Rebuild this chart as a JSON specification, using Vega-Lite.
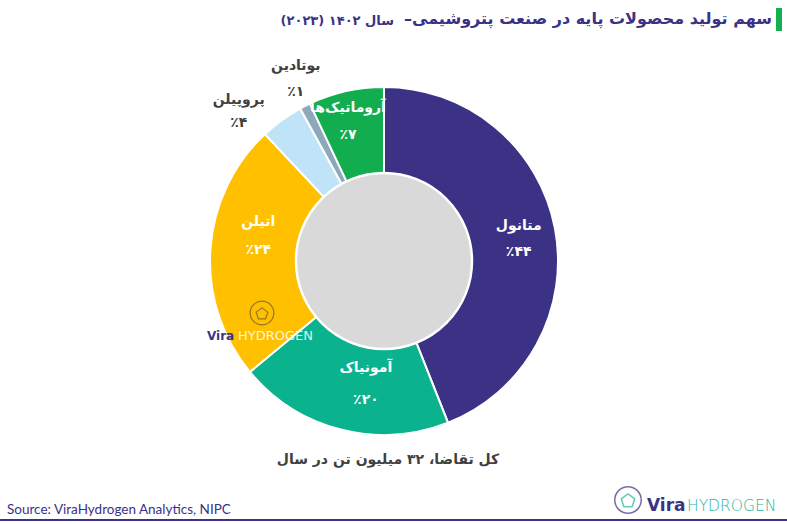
{
  "$schema": "https://vega.github.io/schema/vega-lite/v6.json",
  "width": 768,
  "height": 522,
  "autosize": {"type": "none"},
  "padding": {"left": 0, "top": 0, "right": 19, "bottom": 2},
  "background": "white",
  "config": {"view": {"stroke": null}},
  "datasets": {
    "shares": [
      {"product": "متانول", "share": 44, "pct": "٪۴۴", "rank": 1},
      {"product": "آمونیاک", "share": 20, "pct": "٪۲۰", "rank": 2},
      {"product": "اتیلن", "share": 24, "pct": "٪۲۴", "rank": 3},
      {"product": "پروپیلن", "share": 4, "pct": "٪۴", "rank": 4},
      {"product": "بوتادین", "share": 1, "pct": "٪۱", "rank": 5},
      {"product": "آروماتیک‌ها", "share": 7, "pct": "٪۷", "rank": 6}
    ],
    "one": [{"k": 1}]
  },
  "layer": [
    {
      "data": {"name": "shares"},
      "mark": {"type": "arc", "radius": 174, "stroke": "white", "strokeWidth": 2},
      "encoding": {
        "theta": {"field": "share", "type": "quantitative", "stack": true},
        "order": {"field": "rank", "type": "quantitative"},
        "color": {
          "field": "product", "type": "nominal", "legend": null,
          "scale": {
            "domain": ["متانول", "آمونیاک", "اتیلن", "پروپیلن", "بوتادین", "آروماتیک‌ها"],
            "range": ["#3b3285", "#0ab38d", "#ffc000", "#bfe3f7", "#8ea8bb", "#12ad4f"]
          }
        }
      }
    },
    {
      "data": {"name": "one"},
      "mark": {"type": "arc", "radius": 88, "fill": "#d9d9d9", "stroke": "white", "strokeWidth": 2.5},
      "encoding": {"theta": {"value": 0}, "theta2": {"value": 6.2832}}
    },
    {
      "data": {"name": "shares"},
      "mark": {"type": "text", "radius": 133, "dx": 4, "dy": -10, "font": "DejaVu Sans", "fontSize": 14, "fontWeight": "bold", "fill": "white"},
      "encoding": {"theta": {"field": "share", "type": "quantitative", "stack": true}, "order": {"field": "rank", "type": "quantitative"}, "detail": {"field": "product", "type": "nominal"},
        "text": {"condition": {"test": "datum.rank == 1", "field": "product", "type": "nominal"}, "value": ""}}
    },
    {
      "data": {"name": "shares"},
      "mark": {"type": "text", "radius": 133, "dx": 4, "dy": 16, "font": "DejaVu Sans", "fontSize": 14, "fontWeight": "bold", "fill": "white"},
      "encoding": {"theta": {"field": "share", "type": "quantitative", "stack": true}, "order": {"field": "rank", "type": "quantitative"}, "detail": {"field": "product", "type": "nominal"},
        "text": {"condition": {"test": "datum.rank == 1", "field": "pct", "type": "nominal"}, "value": ""}}
    },
    {
      "data": {"name": "shares"},
      "mark": {"type": "text", "radius": 133, "dx": 15, "dy": -22, "font": "DejaVu Sans", "fontSize": 14, "fontWeight": "bold", "fill": "white"},
      "encoding": {"theta": {"field": "share", "type": "quantitative", "stack": true}, "order": {"field": "rank", "type": "quantitative"}, "detail": {"field": "product", "type": "nominal"},
        "text": {"condition": {"test": "datum.rank == 2", "field": "product", "type": "nominal"}, "value": ""}}
    },
    {
      "data": {"name": "shares"},
      "mark": {"type": "text", "radius": 133, "dx": 15, "dy": 10, "font": "DejaVu Sans", "fontSize": 14, "fontWeight": "bold", "fill": "white"},
      "encoding": {"theta": {"field": "share", "type": "quantitative", "stack": true}, "order": {"field": "rank", "type": "quantitative"}, "detail": {"field": "product", "type": "nominal"},
        "text": {"condition": {"test": "datum.rank == 2", "field": "pct", "type": "nominal"}, "value": ""}}
    },
    {
      "data": {"name": "shares"},
      "mark": {"type": "text", "radius": 133, "dx": 7, "dy": -31, "font": "DejaVu Sans", "fontSize": 14, "fontWeight": "bold", "fill": "white"},
      "encoding": {"theta": {"field": "share", "type": "quantitative", "stack": true}, "order": {"field": "rank", "type": "quantitative"}, "detail": {"field": "product", "type": "nominal"},
        "text": {"condition": {"test": "datum.rank == 3", "field": "product", "type": "nominal"}, "value": ""}}
    },
    {
      "data": {"name": "shares"},
      "mark": {"type": "text", "radius": 133, "dx": 7, "dy": -3, "font": "DejaVu Sans", "fontSize": 14, "fontWeight": "bold", "fill": "white"},
      "encoding": {"theta": {"field": "share", "type": "quantitative", "stack": true}, "order": {"field": "rank", "type": "quantitative"}, "detail": {"field": "product", "type": "nominal"},
        "text": {"condition": {"test": "datum.rank == 3", "field": "pct", "type": "nominal"}, "value": ""}}
    },
    {
      "data": {"name": "shares"},
      "mark": {"type": "text", "radius": 133, "dx": -7, "dy": -23, "font": "DejaVu Sans", "fontSize": 14, "fontWeight": "bold", "fill": "white"},
      "encoding": {"theta": {"field": "share", "type": "quantitative", "stack": true}, "order": {"field": "rank", "type": "quantitative"}, "detail": {"field": "product", "type": "nominal"},
        "text": {"condition": {"test": "datum.rank == 6", "field": "product", "type": "nominal"}, "value": ""}}
    },
    {
      "data": {"name": "shares"},
      "mark": {"type": "text", "radius": 133, "dx": -7, "dy": 4, "font": "DejaVu Sans", "fontSize": 14, "fontWeight": "bold", "fill": "white"},
      "encoding": {"theta": {"field": "share", "type": "quantitative", "stack": true}, "order": {"field": "rank", "type": "quantitative"}, "detail": {"field": "product", "type": "nominal"},
        "text": {"condition": {"test": "datum.rank == 6", "field": "pct", "type": "nominal"}, "value": ""}}
    },
    {
      "data": {"name": "shares"},
      "mark": {"type": "text", "radius": 203, "dx": -26, "dy": 3, "font": "DejaVu Sans", "fontSize": 14, "fontWeight": "bold", "fill": "#404040"},
      "encoding": {"theta": {"field": "share", "type": "quantitative", "stack": true}, "order": {"field": "rank", "type": "quantitative"}, "detail": {"field": "product", "type": "nominal"},
        "text": {"condition": {"test": "datum.rank == 4", "field": "product", "type": "nominal"}, "value": ""}}
    },
    {
      "data": {"name": "shares"},
      "mark": {"type": "text", "radius": 203, "dx": -26, "dy": 26, "font": "DejaVu Sans", "fontSize": 14, "fontWeight": "bold", "fill": "#404040"},
      "encoding": {"theta": {"field": "share", "type": "quantitative", "stack": true}, "order": {"field": "rank", "type": "quantitative"}, "detail": {"field": "product", "type": "nominal"},
        "text": {"condition": {"test": "datum.rank == 4", "field": "pct", "type": "nominal"}, "value": ""}}
    },
    {
      "data": {"name": "shares"},
      "mark": {"type": "text", "radius": 203, "dx": 4, "dy": -14, "font": "DejaVu Sans", "fontSize": 14, "fontWeight": "bold", "fill": "#404040"},
      "encoding": {"theta": {"field": "share", "type": "quantitative", "stack": true}, "order": {"field": "rank", "type": "quantitative"}, "detail": {"field": "product", "type": "nominal"},
        "text": {"condition": {"test": "datum.rank == 5", "field": "product", "type": "nominal"}, "value": ""}}
    },
    {
      "data": {"name": "shares"},
      "mark": {"type": "text", "radius": 203, "dx": 4, "dy": 12, "font": "DejaVu Sans", "fontSize": 14, "fontWeight": "bold", "fill": "#404040"},
      "encoding": {"theta": {"field": "share", "type": "quantitative", "stack": true}, "order": {"field": "rank", "type": "quantitative"}, "detail": {"field": "product", "type": "nominal"},
        "text": {"condition": {"test": "datum.rank == 5", "field": "pct", "type": "nominal"}, "value": ""}}
    },
    {
      "data": {"name": "one"},
      "mark": {"type": "text", "align": "right", "baseline": "middle", "font": "DejaVu Sans", "fontSize": 16, "fontWeight": "bold", "fill": "#3b3285"},
      "encoding": {"x": {"value": 772}, "y": {"value": 19}, "text": {"value": "سهم تولید محصولات پایه در صنعت پتروشیمی–‏"}}
    },
    {
      "data": {"name": "one"},
      "mark": {"type": "text", "align": "right", "baseline": "middle", "font": "DejaVu Sans", "fontSize": 13, "fontWeight": "bold", "fill": "#3b3285"},
      "encoding": {"x": {"value": 394}, "y": {"value": 21}, "text": {"value": "‏سال ۱۴۰۲ (۲۰۲۳)‏"}}
    },
    {
      "data": {"name": "one"},
      "mark": {"type": "rect", "fill": "#14b050"},
      "encoding": {"x": {"value": 776}, "x2": {"value": 782}, "y": {"value": 8}, "y2": {"value": 31}}
    },
    {
      "data": {"name": "one"},
      "mark": {"type": "text", "align": "center", "baseline": "middle", "font": "DejaVu Sans", "fontSize": 14, "fontWeight": "bold", "fill": "#404040"},
      "encoding": {"x": {"value": 388}, "y": {"value": 460}, "text": {"value": "‏کل تقاضا، ۳۲ میلیون تن در سال‏"}}
    },
    {
      "data": {"name": "one"},
      "mark": {"type": "text", "align": "left", "baseline": "middle", "font": "Lato", "fontSize": 13.5, "fill": "#3b3285"},
      "encoding": {"x": {"value": 7}, "y": {"value": 510}, "text": {"value": "Source: ViraHydrogen Analytics, NIPC"}}
    },
    {
      "data": {"name": "one"},
      "mark": {"type": "rule", "stroke": "#3b3285", "strokeWidth": 2},
      "encoding": {"x": {"value": 0}, "x2": {"value": 787}, "y": {"value": 520}, "y2": {"value": 520}}
    },
    {
      "data": {"name": "one"},
      "mark": {"type": "point", "shape": "circle", "size": 700, "filled": false, "stroke": "#3b3285", "strokeWidth": 1.5},
      "encoding": {"x": {"value": 628}, "y": {"value": 500}}
    },
    {
      "data": {"name": "one"},
      "mark": {"type": "point", "shape": "M0,-1L0.951,-0.309L0.588,0.809L-0.588,0.809L-0.951,-0.309Z", "size": 200, "filled": false, "stroke": "#2bb3a0", "strokeWidth": 1.5},
      "encoding": {"x": {"value": 628}, "y": {"value": 501}}
    },
    {
      "data": {"name": "one"},
      "mark": {"type": "text", "align": "left", "baseline": "middle", "font": "DejaVu Sans", "fontSize": 17, "fontWeight": "bold", "fill": "#3b3285"},
      "encoding": {"x": {"value": 647}, "y": {"value": 506}, "text": {"value": "Vira"}}
    },
    {
      "data": {"name": "one"},
      "mark": {"type": "text", "align": "left", "baseline": "middle", "font": "DejaVu Sans", "fontSize": 15.5, "fontWeight": 200, "fill": "#2bb3a0"},
      "encoding": {"x": {"value": 687}, "y": {"value": 506}, "text": {"value": "HYDROGEN"}}
    },
    {
      "data": {"name": "one"},
      "mark": {"type": "point", "shape": "circle", "size": 560, "filled": false, "stroke": "#6a5532", "strokeWidth": 1.2},
      "encoding": {"x": {"value": 262}, "y": {"value": 313}}
    },
    {
      "data": {"name": "one"},
      "mark": {"type": "point", "shape": "M0,-1L0.951,-0.309L0.588,0.809L-0.588,0.809L-0.951,-0.309Z", "size": 150, "filled": false, "stroke": "#6a5532", "strokeWidth": 1.2},
      "encoding": {"x": {"value": 262}, "y": {"value": 314}}
    },
    {
      "data": {"name": "one"},
      "mark": {"type": "text", "align": "left", "baseline": "middle", "font": "DejaVu Sans", "fontSize": 12, "fontWeight": "bold", "fill": "#3b3285"},
      "encoding": {"x": {"value": 207}, "y": {"value": 336}, "text": {"value": "Vira"}}
    },
    {
      "data": {"name": "one"},
      "mark": {"type": "text", "align": "left", "baseline": "middle", "font": "DejaVu Sans", "fontSize": 13, "fill": "white", "opacity": 0.85},
      "encoding": {"x": {"value": 238}, "y": {"value": 336}, "text": {"value": "HYDROGEN"}}
    }
  ]
}
